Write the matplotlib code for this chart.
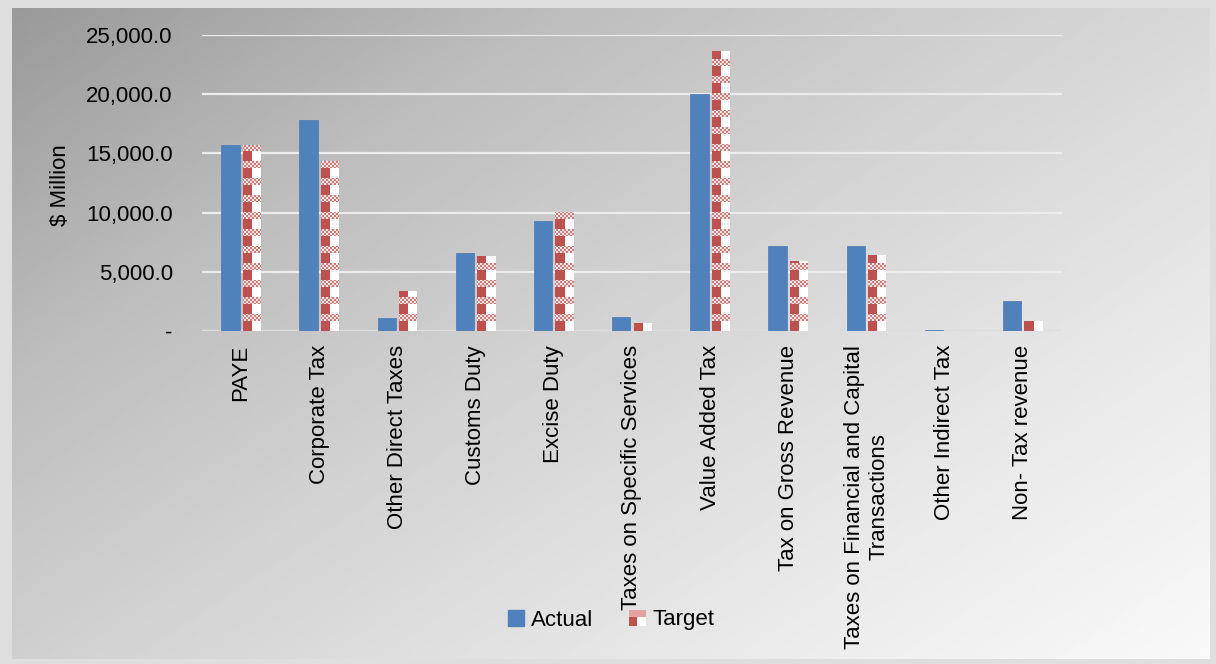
import numpy as np
import matplotlib
matplotlib.use('Agg')
import matplotlib.pyplot as plt
from matplotlib.patches import Patch, Rectangle
from matplotlib.path import Path
from matplotlib.legend_handler import HandlerBase
from matplotlib.colors import to_rgb
from matplotlib.ticker import FuncFormatter

# Revenue by category, actual vs target ($ million).
categories = ['PAYE', 'Corporate Tax', 'Other Direct Taxes', 'Customs Duty', 'Excise Duty',
              'Taxes on Specific Services', 'Value Added Tax', 'Tax on Gross Revenue',
              'Taxes on Financial and Capital\nTransactions', 'Other Indirect Tax', 'Non- Tax revenue']
actual = [15700, 17800, 1100, 6600, 9300, 1200, 20000, 7200, 7200, 100, 2550]
target = [15700, 14350, 3400, 6350, 10050, 700, 23650, 5900, 6400, 0, 850]
yticks = [0, 5000, 10000, 15000, 20000, 25000]

plt.rcParams['font.family'] = ['Liberation Sans', 'DejaVu Sans']
FS = 16
RED = '#c0504d'
BLUE = '#4f81bd'

W, H = 1216, 664
fig = plt.figure(figsize=(W / 100, H / 100), dpi=100)
fig.patch.set_facecolor('#dedede')

# Diagonal grey gradient behind the chart.
bg = fig.add_axes([12 / W, 5 / H, 1198 / W, 651 / H], zorder=0)
gx, gy = np.meshgrid(np.linspace(0, 1, 400), np.linspace(0, 1, 300))
t = (gx * 0.55 + gy * 0.45)
shade = np.interp(t, [0, 0.25, 0.5, 0.75, 1.0], [0.60, 0.74, 0.83, 0.91, 0.975])
bg.imshow(shade, cmap='gray', vmin=0, vmax=1, aspect='auto', origin='upper',
          extent=[0, 1, 0, 1], interpolation='bilinear')
bg.axis('off')

AX_W, AX_H = 860, 296
ax = fig.add_axes([202 / W, 1 - 331 / H, AX_W / W, AX_H / H], zorder=1)
ax.patch.set_alpha(0)

x = np.arange(len(categories))
w = 0.235
gap = 0.02
ax.bar(x - w / 2 - gap, actual, w, color=BLUE, edgecolor='#4a7ab5', linewidth=0.5,
       label='Actual', zorder=3)
tbars = ax.bar(x + w / 2 + gap, target, w, color='white', linewidth=0, label='Target', zorder=3)

ax.set_xlim(-0.5, len(categories) - 0.5)
ax.set_ylim(0, 25000)

# Checkered fill for the target bars: a pixel texture clipped to the bars.
red = np.array(to_rgb(RED))
white = np.ones(3)
cols = np.arange(AX_W)
xdata = -0.5 + (cols + 0.5) / AX_W * len(categories)
frac = (xdata - np.round(xdata) - gap) / w
left_half = frac < 0.5
rows = np.arange(AX_H)
phase = (AX_H - 1 - rows) % 17
tex = np.ones((AX_H, AX_W, 3))
for r in rows:
    if phase[r] < 10:
        tex[r, left_half] = red
    else:
        chk = ((r // 2 + cols // 2) % 2) == 0
        tex[r, chk] = red * 0.75 + white * 0.25
        tex[r, ~chk] = red * 0.15 + white * 0.85
im = ax.imshow(tex, extent=[-0.5, len(categories) - 0.5, 0, 25000], origin='upper',
               aspect='auto', interpolation='nearest', zorder=4)
clip = Path.make_compound_path(*[b.get_path().transformed(b.get_patch_transform()) for b in tbars])
im.set_clip_path(clip, ax.transData)

ax.set_yticks(yticks)
ax.yaxis.set_major_formatter(FuncFormatter(lambda v, p: '-' if v == 0 else f'{v:,.1f}'))
ax.grid(axis='y', color='#ececec', linewidth=1.6, zorder=1)
ax.set_axisbelow(True)
for s in ax.spines.values():
    s.set_visible(False)
ax.tick_params(length=0)
ax.tick_params(axis='y', labelsize=FS, pad=21)
ax.set_xticks(x)
ax.set_xticklabels(categories, rotation=90, fontsize=FS, ha='center', va='top',
                   multialignment='center')
ax.tick_params(axis='x', pad=10)
ax.axhline(0, color='#dcdcdc', linewidth=1.6, zorder=2)

fig.text(60 / W, 1 - 185 / H, '$ Million', rotation=90, fontsize=FS, ha='center', va='center')


class CheckerHandler(HandlerBase):
    def create_artists(self, legend, orig_handle, xdescent, ydescent, width, height,
                       fontsize, trans):
        x0, y0 = -xdescent, -ydescent
        parts = [Rectangle((x0, y0), width / 2, height * 0.55, facecolor=RED, lw=0),
                 Rectangle((x0 + width / 2, y0), width / 2, height * 0.55, facecolor='white', lw=0),
                 Rectangle((x0, y0 + height * 0.55), width, height * 0.45,
                           facecolor='#e3a3a1', lw=0)]
        for p in parts:
            p.set_transform(trans)
        return parts


handles = [Patch(facecolor=BLUE, edgecolor=BLUE), Patch(facecolor=RED)]
fig.legend(handles, ['Actual', 'Target'], loc='center', bbox_to_anchor=(611 / W, 1 - 620 / H),
           ncol=2, frameon=False, fontsize=FS, handlelength=0.75, handleheight=0.75,
           handletextpad=0.3, columnspacing=1.6,
           handler_map={handles[1]: CheckerHandler()})

fig.savefig('out.png', dpi=100, facecolor=fig.get_facecolor())
